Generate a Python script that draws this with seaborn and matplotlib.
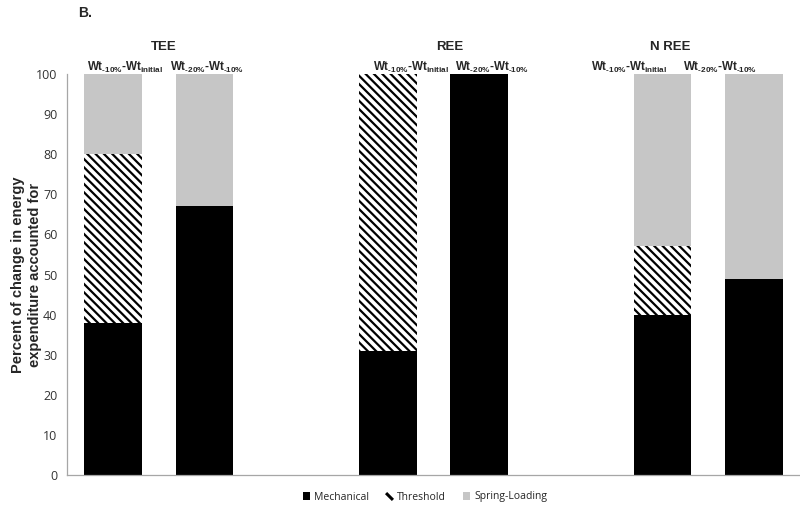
import numpy as np
import pandas as pd
import matplotlib
matplotlib.use("Agg")
import matplotlib.pyplot as plt
from matplotlib.patches import Patch
from matplotlib.lines import Line2D
import seaborn as sns

# ─── data ────────────────────────────────────────────────────────────────────
bars        = ["TEE_1", "TEE_2", "REE_1", "REE_2", "NREE_1", "NREE_2"]
slot_order  = ["TEE_1", "TEE_2", "gap_1", "REE_1", "REE_2", "gap_2", "NREE_1", "NREE_2"]
mechanical  = [38, 67, 31, 100, 40, 49]
threshold   = [42, 0, 69, 0, 17, 0]
spring      = [20, 33, 0, 0, 43, 51]

group_titles = ["TEE", "REE", "N REE"]
bar_labels   = [
    r"$\mathbf{Wt}_{\mathbf{‐10\%}}\mathbf{‐Wt}_{\mathbf{initial}}$",
    r"$\mathbf{Wt}_{\mathbf{‐20\%}}\mathbf{‐Wt}_{\mathbf{‐10\%}}$",
]
y_ticks = [0, 10, 20, 30, 40, 50, 60, 70, 80, 90, 100]

_COLORS = {"Mechanical": "#000000", "Threshold": "#ffffff", "Spring-Loading": "#c6c6c6"}

# ─── layout / style ─────────────────────────────────────────────────────────
sns.set_style("white")
plt.rcParams["font.family"] = ["Open Sans", "DejaVu Sans"]
plt.rcParams["mathtext.fontset"] = "custom"
plt.rcParams["mathtext.rm"] = "Liberation Sans"
plt.rcParams["mathtext.bf"] = "Liberation Sans:bold"
plt.rcParams["hatch.linewidth"] = 1.6

df = pd.DataFrame({
    "bar": bars,
    "mech": mechanical,
    "thr": np.array(mechanical) + np.array(threshold),
    "all": np.array(mechanical) + np.array(threshold) + np.array(spring),
})

fig = plt.figure(figsize=(8.0, 5.07), dpi=100)
ax = fig.add_axes([67 / 800, 1 - 475 / 507, 733 / 800, 401 / 507])

hatch = "\\" * 4
common = dict(data=df, x="bar", order=slot_order, width=0.63, saturation=1,
              ax=ax, linewidth=0)
sns.barplot(y="all", color=_COLORS["Spring-Loading"], **common)
sns.barplot(y="thr", color="white", hatch=hatch, edgecolor="black", **common)
sns.barplot(y="mech", color=_COLORS["Mechanical"], **common)

ax.set_xlim(-0.5, 7.5)
ax.set_ylim(0, 100)
ax.set_yticks(y_ticks)
ax.set_xticks([])
ax.set_xlabel("")
ax.tick_params(axis="y", length=0, pad=7, labelsize=9, labelcolor="#333333")
for s in ["top", "right"]:
    ax.spines[s].set_visible(False)
for s in ["left", "bottom"]:
    ax.spines[s].set_color("#a6a6a6")
    ax.spines[s].set_linewidth(0.9)

ax.set_ylabel("Percent of change in energy\nexpenditure accounted for",
              fontsize=10.5, fontweight="bold", family="Liberation Sans",
              linespacing=1.3)
ax.yaxis.set_label_coords((42 - 67) / 733, 0.5)

# group titles and bar labels (positions in category units)
title_x = [0.56, 3.68, 6.08]
for x, t in zip(title_x, group_titles):
    ax.text(x, 106.8, t, ha="center", va="center", fontsize=9.5,
            fontweight="bold", family="Liberation Sans")
label_x = [0.13, 1.03, 3.25, 4.14, 5.63, 6.63]
for i, x in enumerate(label_x):
    ax.text(x, 101.6, bar_labels[i % 2], ha="center", va="center", fontsize=8.4)

fig.text(78 / 800, 1 - 13 / 507, "B.", fontsize=10, fontweight="bold",
         family="Liberation Sans", va="center")

handles = [
    Patch(facecolor="black", edgecolor="none", label="Mechanical"),
    Line2D([], [], linestyle="none", marker=(2, 0, 45), markersize=7,
           markeredgewidth=2.2, color="black", label="Threshold"),
    Patch(facecolor=_COLORS["Spring-Loading"], edgecolor="none",
          label="Spring-Loading"),
]
fig.legend(handles=handles, loc="center", bbox_to_anchor=(425 / 800, 1 - 497 / 507),
           ncol=3, frameon=False, fontsize=7.5, handlelength=0.7,
           handleheight=0.7, handletextpad=0.4, columnspacing=1.6)

fig.savefig("out.png", dpi=100)
